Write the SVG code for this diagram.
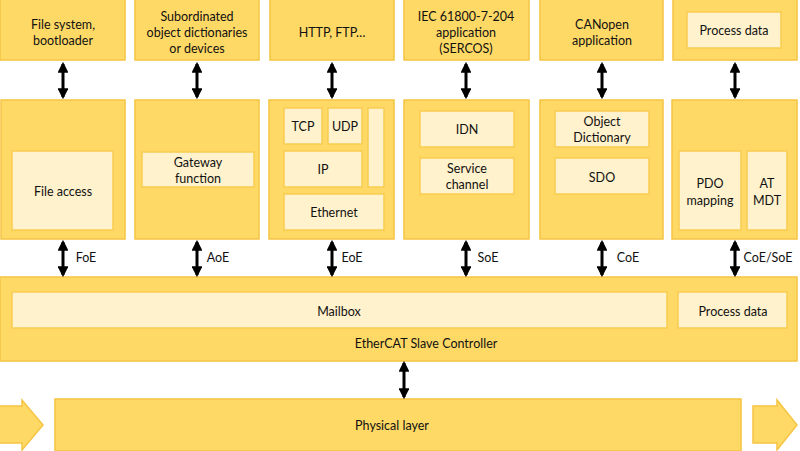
<svg xmlns="http://www.w3.org/2000/svg" width="800" height="451" viewBox="0 0 800 451">
<defs>
<style>
.o{fill:#FFD966;stroke:#F6C443;stroke-width:1.5}
.i{fill:#FFF2CC;stroke:#F8CD50;stroke-width:1.5}
text{font-family:Lato,"Open Sans","Liberation Sans",sans-serif;font-size:12.5px;fill:#111;text-anchor:middle;dominant-baseline:central}
.c{stroke:#000;stroke-width:3;fill:none;marker-start:url(#h);marker-end:url(#h)}
.bg{fill:#FFD966;stroke:#F6C443;stroke-width:1.5}
</style>
<marker id="h" viewBox="0 0 10 10" refX="8" refY="5" markerWidth="3.6" markerHeight="3.6" orient="auto-start-reverse" markerUnits="strokeWidth">
<path d="M0,0 L10,5 L0,10 Z" fill="#000"/>
</marker>
</defs>
<rect width="800" height="451" fill="#fff"/>

<g id="top1"><rect class="o" x="0" y="-1" width="125" height="61"/><text x="63" y="24">File system,</text><text x="63" y="40">bootloader</text></g>
<g id="top2"><rect class="o" x="135" y="-1" width="124" height="61"/><text x="197" y="16">Subordinated</text><text x="197" y="32">object dictionaries</text><text x="197" y="48">or devices</text></g>
<g id="top3"><rect class="o" x="270" y="-1" width="124" height="61"/><text x="332" y="32">HTTP, FTP…</text></g>
<g id="top4"><rect class="o" x="404" y="-1" width="125" height="61"/><text x="466" y="16">IEC 61800-7-204</text><text x="466" y="32">application</text><text x="466" y="48">(SERCOS)</text></g>
<g id="top5"><rect class="o" x="540" y="-1" width="123" height="61"/><text x="602" y="24">CANopen</text><text x="602" y="40">application</text></g>
<g id="top6"><rect class="o" x="673" y="-1" width="124" height="61"/><rect class="i" x="687" y="12" width="94" height="36"/><text x="734" y="30">Process data</text></g>

<g id="mid1"><rect class="o" x="1" y="100" width="124" height="139"/><rect class="i" x="12" y="151" width="101" height="79"/><text x="63" y="191">File access</text></g>
<g id="mid2"><rect class="o" x="135" y="100" width="124" height="139"/><rect class="i" x="142" y="152" width="112" height="35"/><text x="198" y="162">Gateway</text><text x="198" y="178">function</text></g>
<g id="mid3"><rect class="o" x="269" y="100" width="125" height="139"/>
<rect class="i" x="284" y="108" width="38" height="36"/><text x="303" y="126">TCP</text>
<rect class="i" x="328" y="108" width="34" height="36"/><text x="345" y="126">UDP</text>
<rect class="i" x="368" y="108" width="16" height="79"/>
<rect class="i" x="284" y="151" width="78" height="36"/><text x="323" y="169">IP</text>
<rect class="i" x="284" y="194" width="100" height="36"/><text x="334" y="212">Ethernet</text></g>
<g id="mid4"><rect class="o" x="404" y="100" width="125" height="139"/>
<rect class="i" x="420" y="111" width="94" height="36"/><text x="467" y="129">IDN</text>
<rect class="i" x="420" y="158" width="94" height="36"/><text x="467" y="168">Service</text><text x="467" y="184">channel</text></g>
<g id="mid5"><rect class="o" x="540" y="100" width="123" height="139"/>
<rect class="i" x="555" y="111" width="94" height="36"/><text x="602" y="121">Object</text><text x="602" y="137">Dictionary</text>
<rect class="i" x="555" y="158" width="94" height="36"/><text x="602" y="177">SDO</text></g>
<g id="mid6"><rect class="o" x="672" y="100" width="125" height="139"/>
<rect class="i" x="679" y="151" width="62" height="79"/><text x="710" y="183">PDO</text><text x="710" y="200">mapping</text>
<rect class="i" x="747" y="151" width="40" height="79"/><text x="767" y="183">AT</text><text x="767" y="200">MDT</text></g>

<g id="esc"><rect class="o" x="0" y="277" width="797" height="84"/>
<rect class="i" x="12" y="292" width="655" height="36"/><text x="339" y="311">Mailbox</text>
<rect class="i" x="678" y="292" width="109" height="36"/><text x="733" y="311">Process data</text>
<text x="426" y="343">EtherCAT Slave Controller</text></g>

<g id="phy"><rect class="o" x="55" y="399" width="686" height="52"/><text x="392" y="425">Physical layer</text></g>
<g id="flowL"><path class="bg" d="M-1,406 L22,406 L22,400 L43,425 L22,450 L22,443 L-1,443 Z"/></g>
<g id="flowR"><path class="bg" d="M753,406 L777,406 L777,400 L797,425 L777,450 L777,443 L753,443 Z"/></g>

<g id="connectors">
<line class="c" x1="63" y1="64" x2="63" y2="97"/>
<line class="c" x1="197" y1="64" x2="197" y2="97"/>
<line class="c" x1="332" y1="64" x2="332" y2="97"/>
<line class="c" x1="466" y1="64" x2="466" y2="97"/>
<line class="c" x1="602" y1="64" x2="602" y2="97"/>
<line class="c" x1="735" y1="64" x2="735" y2="97"/>
<line class="c" x1="63" y1="242" x2="63" y2="275"/>
<line class="c" x1="197" y1="242" x2="197" y2="275"/>
<line class="c" x1="332" y1="242" x2="332" y2="275"/>
<line class="c" x1="466" y1="242" x2="466" y2="275"/>
<line class="c" x1="602" y1="242" x2="602" y2="275"/>
<line class="c" x1="735" y1="242" x2="735" y2="275"/>
<line class="c" x1="404" y1="363" x2="404" y2="397"/>
<text x="86" y="257">FoE</text>
<text x="218" y="257">AoE</text>
<text x="352" y="257">EoE</text>
<text x="488" y="257">SoE</text>
<text x="628" y="257">CoE</text>
<text x="768" y="257">CoE/SoE</text>
</g>
</svg>
